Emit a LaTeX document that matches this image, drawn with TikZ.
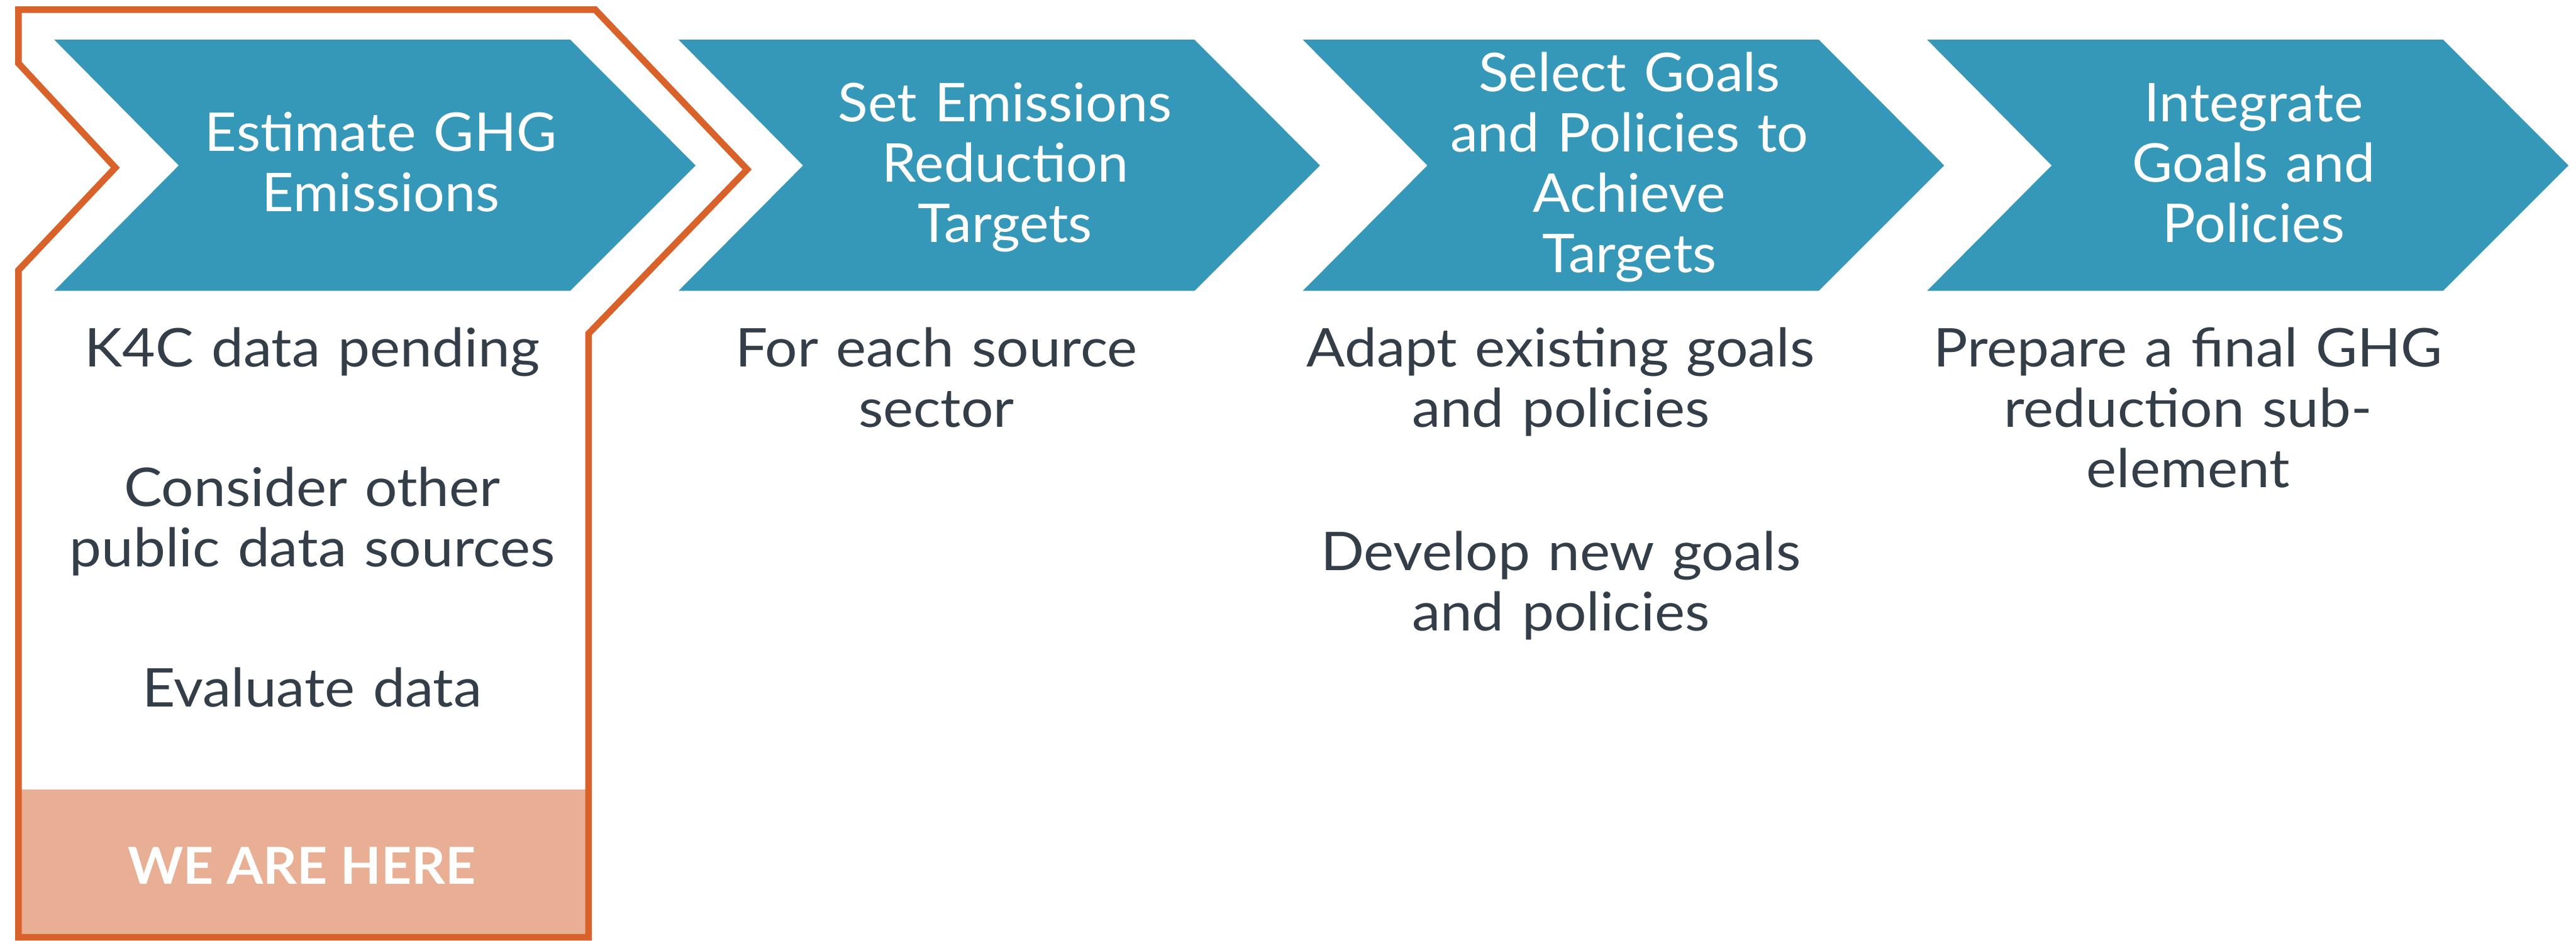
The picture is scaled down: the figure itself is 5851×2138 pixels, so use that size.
\documentclass[tikz,border=0pt]{standalone}
\usepackage{fontspec}
\setmainfont{Lato}[FakeStretch=1.035]
\newfontfamily\notefont{Lato}[FakeStretch=1.07]
\usepackage{tikz}
\usepackage{xcolor}
\definecolor{stepblue}{HTML}{3698B8}
\definecolor{hereorange}{HTML}{D9622B}
\definecolor{heresalmon}{HTML}{E8AF94}
\definecolor{notegray}{HTML}{343E49}
\tikzset{
	steptext/.style={text=white, align=center, text width=14cm, inner sep=0pt, anchor=base,
		font=\fontsize{34.5}{39}\selectfont},
	notetext/.style={steptext, text=notegray, font=\notefont\fontsize{34.5}{39}\selectfont},
}

\begin{document}
\begin{tikzpicture}[x=0.01cm, y=-0.01cm]
		\def\chevron#1{ % #1 left edge of the arrow
			\fill[stepblue] (#1,90) -- ++(1172,0) -- ++(285,286) -- ++(-285,285) -- ++(-1172,0) -- ++(283,-285) -- cycle;
		}
		\useasboundingbox (0,0) rectangle (5851,2138);
		\foreach \x in {123,1541,2959,4377} {
			\chevron{\x}
		}
		% the four steps
		\node[steptext] (estimate) at (865,344) {Estimate GHG\\Emissions};
		\node[steptext] (targets) at (2283,277) {Set Emissions\\Reduction\\Targets};
		\node[steptext] (select) at (3701,208) {Select Goals\\and Policies to\\Achieve\\Targets};
		\node[steptext] (integrate) at (5119,277) {Integrate\\Goals and\\Policies};
		% tasks below each step
		\node[notetext] (pending) at (709,834) {K4C data pending};
		\node[notetext] (consider) at (709,1150) {Consider other\\public data sources};
		\node[notetext] (evaluate) at (709,1606) {Evaluate data};
		\node[notetext] (sector) at (2127,834) {For each source\\sector};
		\node[notetext] (adapt) at (3545,834) {Adapt existing goals\\and policies};
		\node[notetext] (develop) at (3545,1296) {Develop new goals\\and policies};
		\node[notetext] (prepare) at (4970,834) {Prepare a final GHG\\reduction sub-\\element};
		% current step
		\fill[heresalmon] (42,1794) rectangle (1337,2130);
		\draw[hereorange, line width=0.15cm] (42,22) -- (1352,22) -- (1697,385) -- (1337,758) -- (1337,2130)
			-- (42,2130) -- (42,614) -- (262,381) -- (42,144) -- cycle;
		\node[text=white, anchor=base, inner sep=0pt, font=\fontsize{33}{40}\selectfont\bfseries] (here) at (686,2009) {WE ARE HERE};
	\end{tikzpicture}
\end{document}
